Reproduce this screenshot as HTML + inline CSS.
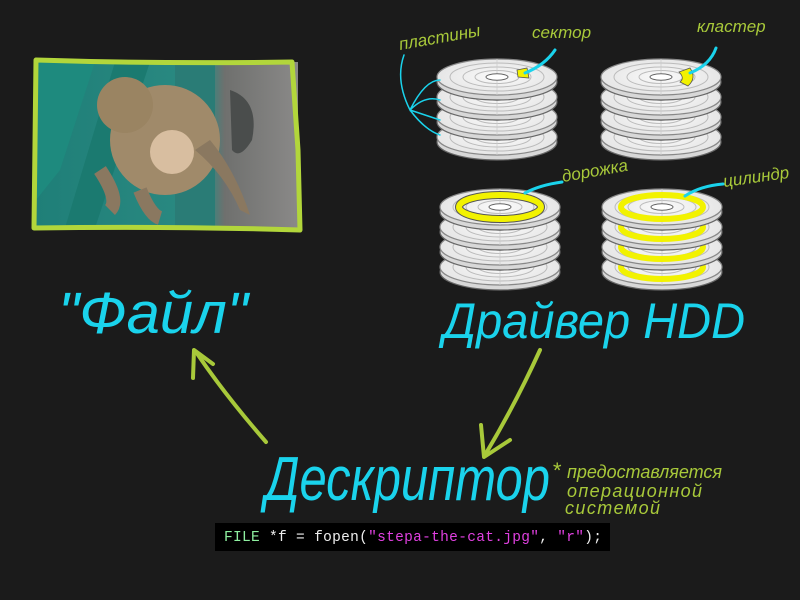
<!DOCTYPE html>
<html><head><meta charset="utf-8"><style>
html,body{margin:0;padding:0;background:#1b1b1b;width:800px;height:600px;overflow:hidden}
svg{display:block}
.h{font-family:"Liberation Sans","DejaVu Sans",sans-serif;font-style:italic}
</style></head><body>
<svg width="800" height="600" viewBox="0 0 800 600" xmlns="http://www.w3.org/2000/svg">
<defs>
<radialGradient id="g" cx="0.5" cy="0.5" r="0.6"><stop offset="0" stop-color="#fafafa"/><stop offset="1" stop-color="#e2e2e2"/></radialGradient>
<g id="p">
<ellipse cy="5" rx="60" ry="18" fill="#d8d8d8" stroke="#666" stroke-width="1.2"/>
<ellipse rx="60" ry="18" fill="url(#g)" stroke="#888" stroke-width="1.2"/>
<ellipse rx="47" ry="14" fill="none" stroke="#bbb"/>
<ellipse rx="34" ry="10" fill="none" stroke="#bbb"/>
<ellipse rx="22" ry="6.5" fill="none" stroke="#bbb"/>
<line x1="0" y1="-18" x2="0" y2="18" stroke="#ccc" stroke-width="0.8"/>
<ellipse rx="11" ry="3.2" fill="#fff" stroke="#666"/>
</g>
<linearGradient id="bg1" x1="0" y1="0" x2="1" y2="0"><stop offset="0" stop-color="#1f7f78"/><stop offset="0.65" stop-color="#2b8a82"/><stop offset="0.72" stop-color="#6f706e"/><stop offset="1" stop-color="#8a8988"/></linearGradient>
</defs>

<!-- photo -->
<rect x="36" y="62" width="262" height="166" fill="url(#bg1)"/>
<polygon points="36,62 95,62 60,170 36,200" fill="#1e8a7e"/>
<polygon points="115,62 150,62 95,228 65,228" fill="#1b7a70"/>
<rect x="175" y="62" width="40" height="166" fill="#2a7c76"/>
<path d="M230,90 Q260,100 252,140 Q240,160 232,150Z" fill="#4a4d4c"/>
<ellipse cx="165" cy="140" rx="55" ry="55" fill="#a08a6a"/>
<ellipse cx="125" cy="105" rx="28" ry="28" fill="#9a8462"/>
<ellipse cx="172" cy="152" rx="22" ry="22" fill="#d8bea0"/>
<path d="M195,150 Q225,175 240,210 L250,215 Q235,170 210,140Z" fill="#8a7860"/>
<path d="M100,170 Q120,200 110,210 M140,190 Q150,215 160,218" stroke="#8a7860" stroke-width="14" fill="none"/>
<path d="M36,60 Q160,64 292,62 L298,150 L300,230 Q170,226 34,228 L36,60Z" fill="none" stroke="#b2d63b" stroke-width="5" stroke-linejoin="round"/>

<!-- stacks -->
<g transform="translate(497,0)"><use href="#p" y="137"/><use href="#p" y="117"/><use href="#p" y="97"/><use href="#p" y="77"/></g>
<path d="M517,70 L527,68 L529,78 L518,77Z" fill="#f2f200" stroke="#555" stroke-width="0.8"/>
<g transform="translate(661,0)"><use href="#p" y="137"/><use href="#p" y="117"/><use href="#p" y="97"/><use href="#p" y="77"/></g>
<path d="M679,72 L690,68 Q697,78 688,86 L680,82 Q685,78 679,72Z" fill="#f2f200" stroke="#555" stroke-width="0.8"/>
<g transform="translate(500,0)"><use href="#p" y="267"/><use href="#p" y="247"/><use href="#p" y="227"/><use href="#p" y="207"/></g>
<ellipse cx="500" cy="207" rx="41" ry="12" fill="none" stroke="#555" stroke-width="8"/>
<ellipse cx="500" cy="207" rx="41" ry="12" fill="none" stroke="#f2f200" stroke-width="6"/>
<g transform="translate(662,0)">
<use href="#p" y="267"/><ellipse cy="267" rx="41" ry="12" fill="none" stroke="#f2f200" stroke-width="6"/>
<use href="#p" y="247"/><ellipse cy="247" rx="41" ry="12" fill="none" stroke="#f2f200" stroke-width="6"/>
<use href="#p" y="227"/><ellipse cy="227" rx="41" ry="12" fill="none" stroke="#f2f200" stroke-width="6"/>
<use href="#p" y="207"/><ellipse cy="207" rx="41" ry="12" fill="none" stroke="#f2f200" stroke-width="6"/>
</g>

<!-- cyan pointers -->
<g fill="none" stroke="#1ad3ec" stroke-width="3" stroke-linecap="round">
<path d="M555,50 Q545,65 525,73"/>
<path d="M716,48 Q710,65 690,73"/>
<path d="M562,182 Q540,185 525,193"/>
<path d="M723,184 Q700,186 685,196"/>
<path d="M404,55 Q395,80 410,110 Q425,80 440,80 M410,110 Q425,95 440,100 M410,110 Q425,115 440,120 M410,110 Q425,130 440,135" stroke-width="1.5"/>
</g>

<!-- lime labels -->
<g class="h" fill="#a8c93a" font-size="17">
<text x="400" y="50" transform="rotate(-10 400 50)">пластины</text>
<text x="532" y="38">сектор</text>
<text x="697" y="32">кластер</text>
<text x="563" y="182" transform="rotate(-10 563 182)">дорожка</text>
<text x="724" y="187" transform="rotate(-8 724 187)">цилиндр</text>
<text x="567" y="478" font-size="18" textLength="155">предоставляется</text>
<text x="567" y="497" font-size="18" textLength="135">операционной</text>
<text x="565" y="514" font-size="18" textLength="95">системой</text>
<text x="552" y="478" font-size="22">*</text>
</g>

<!-- cyan big -->
<g class="h" fill="#1ad3ec">
<text x="58" y="333" font-size="58" textLength="190" lengthAdjust="spacingAndGlyphs">"Файл"</text>
<text x="443" y="338" font-size="50" textLength="302" lengthAdjust="spacingAndGlyphs">Драйвер HDD</text>
<text x="265" y="500" font-size="62" textLength="285" lengthAdjust="spacingAndGlyphs">Дескриптор</text>
</g>

<!-- arrows -->
<g fill="none" stroke="#a8c93a" stroke-width="4" stroke-linecap="round" stroke-linejoin="round">
<path d="M266,442 Q225,395 196,352"/>
<path d="M193,378 L194,350 L213,364"/>
<path d="M540,350 Q515,405 485,455"/>
<path d="M481,425 L484,457 L510,440"/>
</g>

<!-- code -->
<rect x="215" y="523" width="395" height="28" fill="#000"/>
<text x="224" y="541" font-family="Liberation Mono,monospace" font-size="14.5" fill="#eee" textLength="378" xml:space="preserve"><tspan fill="#8ef0a0">FILE</tspan> *f = fopen(<tspan fill="#e040e0">"stepa-the-cat.jpg"</tspan>, <tspan fill="#e040e0">"r"</tspan>);</text>
</svg>
</body></html>
